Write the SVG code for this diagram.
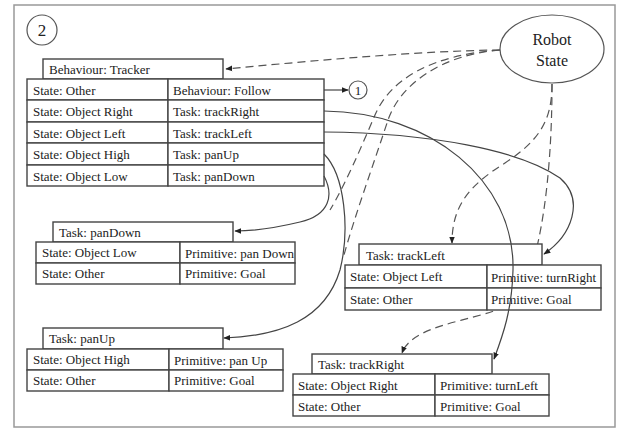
<svg xmlns="http://www.w3.org/2000/svg" width="618" height="430" viewBox="0 0 618 430">
<style>
text{font-family:"Liberation Serif","Times New Roman",serif;font-size:13px;fill:#222}
.cell{fill:#fff;stroke:#444;stroke-width:1.4}
.solid{fill:none;stroke:#444;stroke-width:1.2}
.dash{fill:none;stroke:#555;stroke-width:1.2;stroke-dasharray:8 5}
</style>
<defs>
<marker id="ah" viewBox="0 0 10 10" refX="9" refY="5" markerWidth="7" markerHeight="7" orient="auto" markerUnits="userSpaceOnUse">
<path d="M0,1 L10,5 L0,9 z" fill="#222"/>
</marker>
</defs>
<rect x="14" y="5" width="601" height="422" fill="#fff" stroke="#999" stroke-width="1.5"/>

<g id="label2">
<circle cx="42" cy="30" r="15" fill="none" stroke="#555" stroke-width="1.2"/>
<text x="42" y="36" text-anchor="middle" style="font-size:17px">2</text>
</g>

<g id="robot-state">
<ellipse cx="552" cy="49" rx="52" ry="34" fill="#fff" stroke="#555" stroke-width="1.2"/>
<text x="552" y="45" text-anchor="middle" style="font-size:16px">Robot</text>
<text x="552" y="66" text-anchor="middle" style="font-size:16px">State</text>
</g>

<g id="dashed-connectors">
<path class="dash" d="M500,50 C420,51 320,60 226,69" marker-end="url(#ah)"/>
<path class="dash" d="M500,50 C430,55 390,80 375,115 C360,150 345,185 330,210"/>
<path class="dash" d="M500,50 C440,55 400,85 388,120 C375,160 355,215 344,255"/>
<path class="dash" d="M552,84 C552,120 540,140 505,163 C470,185 452,205 452,243" marker-end="url(#ah)"/>
<path class="dash" d="M552,84 C552,180 540,260 520,295 C500,322 415,318 402,353" marker-end="url(#ah)"/>
</g>

<g id="tracker">
<rect class="cell" x="43" y="59" width="180" height="20"/>
<text x="49" y="74">Behaviour: Tracker</text>
<rect class="cell" x="27" y="79" width="141" height="21"/>
<rect class="cell" x="168" y="79" width="156" height="21"/>
<text x="33" y="95">State: Other</text>
<text x="173" y="95">Behaviour: Follow</text>
<rect class="cell" x="27" y="100" width="141" height="22"/>
<rect class="cell" x="168" y="100" width="156" height="22"/>
<text x="33" y="116">State: Object Right</text>
<text x="173" y="116">Task: trackRight</text>
<rect class="cell" x="27" y="122" width="141" height="21"/>
<rect class="cell" x="168" y="122" width="156" height="21"/>
<text x="33" y="138">State: Object Left</text>
<text x="173" y="138">Task: trackLeft</text>
<rect class="cell" x="27" y="143" width="141" height="22"/>
<rect class="cell" x="168" y="143" width="156" height="22"/>
<text x="33" y="159">State: Object High</text>
<text x="173" y="159">Task: panUp</text>
<rect class="cell" x="27" y="165" width="141" height="21"/>
<rect class="cell" x="168" y="165" width="156" height="21"/>
<text x="33" y="181">State: Object Low</text>
<text x="173" y="181">Task: panDown</text>
</g>

<g id="pandown">
<rect class="cell" x="53" y="222" width="180" height="20"/>
<text x="59" y="237">Task: panDown</text>
<rect class="cell" x="36" y="242" width="144" height="21"/>
<rect class="cell" x="180" y="242" width="115" height="21"/>
<text x="42" y="257">State: Object Low</text>
<text x="185" y="258">Primitive: pan Down</text>
<rect class="cell" x="36" y="263" width="144" height="21"/>
<rect class="cell" x="180" y="263" width="115" height="21"/>
<text x="42" y="278">State: Other</text>
<text x="185" y="278">Primitive: Goal</text>
</g>

<g id="panup">
<rect class="cell" x="43" y="328" width="180" height="21"/>
<text x="49" y="343">Task: panUp</text>
<rect class="cell" x="27" y="349" width="142" height="21"/>
<rect class="cell" x="169" y="349" width="114" height="21"/>
<text x="33" y="364">State: Object High</text>
<text x="174" y="365">Primitive: pan Up</text>
<rect class="cell" x="27" y="370" width="142" height="21"/>
<rect class="cell" x="169" y="370" width="114" height="21"/>
<text x="33" y="385">State: Other</text>
<text x="174" y="385">Primitive: Goal</text>
</g>

<g id="trackleft">
<rect class="cell" x="359" y="244" width="183" height="21"/>
<text x="366" y="260">Task: trackLeft</text>
<rect class="cell" x="345" y="265" width="142" height="23"/>
<rect class="cell" x="487" y="265" width="114" height="23"/>
<text x="350" y="281">State: Object Left</text>
<text x="491" y="282">Primitive: turnRight</text>
<rect class="cell" x="345" y="288" width="142" height="22"/>
<rect class="cell" x="487" y="288" width="114" height="22"/>
<text x="350" y="304">State: Other</text>
<text x="491" y="304">Primitive: Goal</text>
</g>

<g id="trackright">
<rect class="cell" x="312" y="354" width="180" height="20"/>
<text x="318" y="369">Task: trackRight</text>
<rect class="cell" x="293" y="374" width="142" height="21"/>
<rect class="cell" x="435" y="374" width="114" height="21"/>
<text x="298" y="390">State: Object Right</text>
<text x="440" y="390">Primitive: turnLeft</text>
<rect class="cell" x="293" y="395" width="142" height="21"/>
<rect class="cell" x="435" y="395" width="114" height="21"/>
<text x="298" y="411">State: Other</text>
<text x="440" y="411">Primitive: Goal</text>
</g>

<g id="label1">
<circle cx="358" cy="90" r="9" fill="#fff" stroke="#555" stroke-width="1.2"/>
<text x="358" y="95" text-anchor="middle" style="font-size:13px">1</text>
</g>

<g id="solid-connectors">
<path class="solid" d="M324,90 L348,90" marker-end="url(#ah)"/>
<path class="solid" d="M324,111 C430,112 515,180 513,270 C512,310 503,335 494,359" marker-end="url(#ah)"/>
<path class="solid" d="M324,132 C430,133 520,150 560,178 C585,200 572,235 544,254" marker-end="url(#ah)"/>
<path class="solid" d="M324,176 C334,195 330,215 300,222 C275,228 255,231 235,231" marker-end="url(#ah)"/>
<path class="solid" d="M324,154 C345,175 350,230 340,270 C325,320 280,336 224,338" marker-end="url(#ah)"/>
</g>
</svg>
